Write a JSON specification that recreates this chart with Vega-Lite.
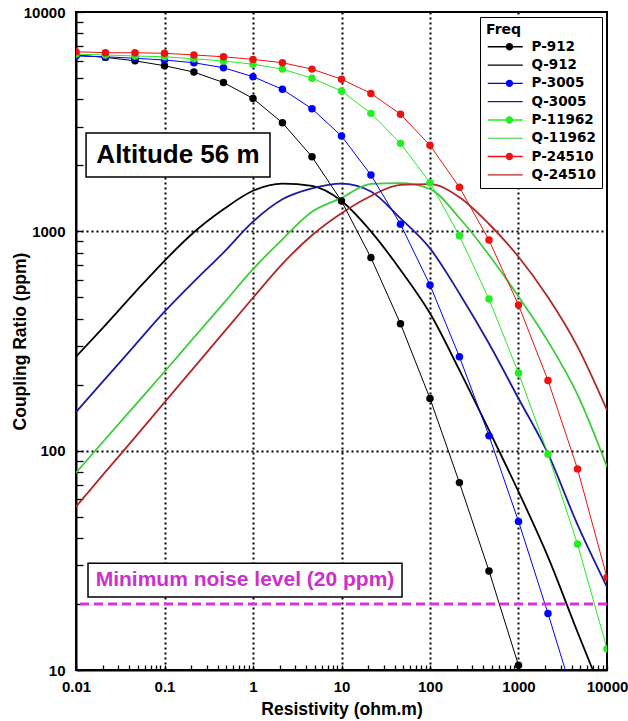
{
  "$schema": "https://vega.github.io/schema/vega-lite/v6.json",
  "width": 531,
  "height": 658,
  "autosize": {"type": "none"},
  "padding": {"left": 76, "top": 12, "right": 21, "bottom": 51},
  "background": "white",
  "config": {
    "view": {"stroke": "black", "strokeWidth": 2},
    "legend": {
      "orient": "top-right", "offset": 5, "padding": 6,
      "strokeColor": "black", "fillColor": "white", "cornerRadius": 0,
      "labelFont": "DejaVu Sans", "labelFontSize": 13.5, "labelFontWeight": "bold", "labelColor": "black",
      "titleFont": "DejaVu Sans", "titleFontSize": 14, "titleFontWeight": "bold", "titleColor": "black",
      "symbolSize": 100, "labelOffset": 32, "rowPadding": 3.3, "titlePadding": 3,
      "symbolStrokeWidth": 0, "symbolOpacity": 1
    }
  },
  "datasets": {
    "curves": [
      {"series":"P-912","kind":"P","resistivity":0.01,"ratio":6370},
      {"series":"P-912","kind":"P","resistivity":0.0215,"ratio":6210},
      {"series":"P-912","kind":"P","resistivity":0.0464,"ratio":5990},
      {"series":"P-912","kind":"P","resistivity":0.1,"ratio":5690},
      {"series":"P-912","kind":"P","resistivity":0.215,"ratio":5320},
      {"series":"P-912","kind":"P","resistivity":0.464,"ratio":4770},
      {"series":"P-912","kind":"P","resistivity":1,"ratio":4035},
      {"series":"P-912","kind":"P","resistivity":2.15,"ratio":3125},
      {"series":"P-912","kind":"P","resistivity":4.64,"ratio":2188},
      {"series":"P-912","kind":"P","resistivity":10,"ratio":1375},
      {"series":"P-912","kind":"P","resistivity":21.5,"ratio":759},
      {"series":"P-912","kind":"P","resistivity":46.4,"ratio":379},
      {"series":"P-912","kind":"P","resistivity":100,"ratio":173},
      {"series":"P-912","kind":"P","resistivity":215,"ratio":71.5},
      {"series":"P-912","kind":"P","resistivity":464,"ratio":28.3},
      {"series":"P-912","kind":"P","resistivity":1000,"ratio":10.5},
      {"series":"P-912","kind":"P","resistivity":2154,"ratio":3.9},

      {"series":"Q-912","kind":"Q","resistivity":0.01,"ratio":268},
      {"series":"Q-912","kind":"Q","resistivity":0.0215,"ratio":374},
      {"series":"Q-912","kind":"Q","resistivity":0.0464,"ratio":527},
      {"series":"Q-912","kind":"Q","resistivity":0.1,"ratio":734},
      {"series":"Q-912","kind":"Q","resistivity":0.215,"ratio":990},
      {"series":"Q-912","kind":"Q","resistivity":0.464,"ratio":1260},
      {"series":"Q-912","kind":"Q","resistivity":1,"ratio":1531},
      {"series":"Q-912","kind":"Q","resistivity":2.15,"ratio":1650},
      {"series":"Q-912","kind":"Q","resistivity":4.64,"ratio":1610},
      {"series":"Q-912","kind":"Q","resistivity":10,"ratio":1375},
      {"series":"Q-912","kind":"Q","resistivity":21.5,"ratio":1000},
      {"series":"Q-912","kind":"Q","resistivity":46.4,"ratio":667},
      {"series":"Q-912","kind":"Q","resistivity":100,"ratio":423},
      {"series":"Q-912","kind":"Q","resistivity":215,"ratio":233},
      {"series":"Q-912","kind":"Q","resistivity":464,"ratio":124},
      {"series":"Q-912","kind":"Q","resistivity":1000,"ratio":65},
      {"series":"Q-912","kind":"Q","resistivity":2154,"ratio":32.8},
      {"series":"Q-912","kind":"Q","resistivity":4642,"ratio":14.9},
      {"series":"Q-912","kind":"Q","resistivity":10000,"ratio":6.9},

      {"series":"P-3005","kind":"P","resistivity":0.01,"ratio":6300},
      {"series":"P-3005","kind":"P","resistivity":0.0215,"ratio":6250},
      {"series":"P-3005","kind":"P","resistivity":0.0464,"ratio":6150},
      {"series":"P-3005","kind":"P","resistivity":0.1,"ratio":6040},
      {"series":"P-3005","kind":"P","resistivity":0.215,"ratio":5870},
      {"series":"P-3005","kind":"P","resistivity":0.464,"ratio":5570},
      {"series":"P-3005","kind":"P","resistivity":1,"ratio":5070},
      {"series":"P-3005","kind":"P","resistivity":2.15,"ratio":4440},
      {"series":"P-3005","kind":"P","resistivity":4.64,"ratio":3620},
      {"series":"P-3005","kind":"P","resistivity":10,"ratio":2720},
      {"series":"P-3005","kind":"P","resistivity":21.5,"ratio":1807},
      {"series":"P-3005","kind":"P","resistivity":46.4,"ratio":1077},
      {"series":"P-3005","kind":"P","resistivity":100,"ratio":569},
      {"series":"P-3005","kind":"P","resistivity":215,"ratio":268},
      {"series":"P-3005","kind":"P","resistivity":464,"ratio":117},
      {"series":"P-3005","kind":"P","resistivity":1000,"ratio":47.6},
      {"series":"P-3005","kind":"P","resistivity":2154,"ratio":18.1},
      {"series":"P-3005","kind":"P","resistivity":4642,"ratio":6.6},

      {"series":"Q-3005","kind":"Q","resistivity":0.01,"ratio":150},
      {"series":"Q-3005","kind":"Q","resistivity":0.0215,"ratio":213},
      {"series":"Q-3005","kind":"Q","resistivity":0.0464,"ratio":303},
      {"series":"Q-3005","kind":"Q","resistivity":0.1,"ratio":430},
      {"series":"Q-3005","kind":"Q","resistivity":0.215,"ratio":590},
      {"series":"Q-3005","kind":"Q","resistivity":0.464,"ratio":800},
      {"series":"Q-3005","kind":"Q","resistivity":1,"ratio":1107},
      {"series":"Q-3005","kind":"Q","resistivity":2.15,"ratio":1400},
      {"series":"Q-3005","kind":"Q","resistivity":4.64,"ratio":1570},
      {"series":"Q-3005","kind":"Q","resistivity":10,"ratio":1650},
      {"series":"Q-3005","kind":"Q","resistivity":21.5,"ratio":1520},
      {"series":"Q-3005","kind":"Q","resistivity":46.4,"ratio":1146},
      {"series":"Q-3005","kind":"Q","resistivity":100,"ratio":836},
      {"series":"Q-3005","kind":"Q","resistivity":215,"ratio":521},
      {"series":"Q-3005","kind":"Q","resistivity":464,"ratio":308},
      {"series":"Q-3005","kind":"Q","resistivity":1000,"ratio":173},
      {"series":"Q-3005","kind":"Q","resistivity":2154,"ratio":97},
      {"series":"Q-3005","kind":"Q","resistivity":4642,"ratio":46},
      {"series":"Q-3005","kind":"Q","resistivity":10000,"ratio":23.9},

      {"series":"P-11962","kind":"P","resistivity":0.01,"ratio":6430},
      {"series":"P-11962","kind":"P","resistivity":0.0215,"ratio":6370},
      {"series":"P-11962","kind":"P","resistivity":0.0464,"ratio":6300},
      {"series":"P-11962","kind":"P","resistivity":0.1,"ratio":6250},
      {"series":"P-11962","kind":"P","resistivity":0.215,"ratio":6120},
      {"series":"P-11962","kind":"P","resistivity":0.464,"ratio":5980},
      {"series":"P-11962","kind":"P","resistivity":1,"ratio":5780},
      {"series":"P-11962","kind":"P","resistivity":2.15,"ratio":5490},
      {"series":"P-11962","kind":"P","resistivity":4.64,"ratio":4990},
      {"series":"P-11962","kind":"P","resistivity":10,"ratio":4365},
      {"series":"P-11962","kind":"P","resistivity":21.5,"ratio":3450},
      {"series":"P-11962","kind":"P","resistivity":46.4,"ratio":2518},
      {"series":"P-11962","kind":"P","resistivity":100,"ratio":1667},
      {"series":"P-11962","kind":"P","resistivity":215,"ratio":955},
      {"series":"P-11962","kind":"P","resistivity":464,"ratio":491},
      {"series":"P-11962","kind":"P","resistivity":1000,"ratio":226},
      {"series":"P-11962","kind":"P","resistivity":2154,"ratio":96.4},
      {"series":"P-11962","kind":"P","resistivity":4642,"ratio":37.5},
      {"series":"P-11962","kind":"P","resistivity":10000,"ratio":12.5},

      {"series":"Q-11962","kind":"Q","resistivity":0.01,"ratio":79.3},
      {"series":"Q-11962","kind":"Q","resistivity":0.0215,"ratio":113},
      {"series":"Q-11962","kind":"Q","resistivity":0.0464,"ratio":161},
      {"series":"Q-11962","kind":"Q","resistivity":0.1,"ratio":229},
      {"series":"Q-11962","kind":"Q","resistivity":0.215,"ratio":328},
      {"series":"Q-11962","kind":"Q","resistivity":0.464,"ratio":469},
      {"series":"Q-11962","kind":"Q","resistivity":1,"ratio":672},
      {"series":"Q-11962","kind":"Q","resistivity":2.15,"ratio":920},
      {"series":"Q-11962","kind":"Q","resistivity":4.64,"ratio":1228},
      {"series":"Q-11962","kind":"Q","resistivity":10,"ratio":1420},
      {"series":"Q-11962","kind":"Q","resistivity":21.5,"ratio":1645},
      {"series":"Q-11962","kind":"Q","resistivity":46.4,"ratio":1660},
      {"series":"Q-11962","kind":"Q","resistivity":100,"ratio":1560},
      {"series":"Q-11962","kind":"Q","resistivity":215,"ratio":1150},
      {"series":"Q-11962","kind":"Q","resistivity":464,"ratio":780},
      {"series":"Q-11962","kind":"Q","resistivity":1000,"ratio":504},
      {"series":"Q-11962","kind":"Q","resistivity":2154,"ratio":315},
      {"series":"Q-11962","kind":"Q","resistivity":4642,"ratio":180},
      {"series":"Q-11962","kind":"Q","resistivity":10000,"ratio":84.5},

      {"series":"P-24510","kind":"P","resistivity":0.01,"ratio":6590},
      {"series":"P-24510","kind":"P","resistivity":0.0215,"ratio":6520},
      {"series":"P-24510","kind":"P","resistivity":0.0464,"ratio":6520},
      {"series":"P-24510","kind":"P","resistivity":0.1,"ratio":6480},
      {"series":"P-24510","kind":"P","resistivity":0.215,"ratio":6370},
      {"series":"P-24510","kind":"P","resistivity":0.464,"ratio":6250},
      {"series":"P-24510","kind":"P","resistivity":1,"ratio":6080},
      {"series":"P-24510","kind":"P","resistivity":2.15,"ratio":5870},
      {"series":"P-24510","kind":"P","resistivity":4.64,"ratio":5490},
      {"series":"P-24510","kind":"P","resistivity":10,"ratio":4940},
      {"series":"P-24510","kind":"P","resistivity":21.5,"ratio":4255},
      {"series":"P-24510","kind":"P","resistivity":46.4,"ratio":3420},
      {"series":"P-24510","kind":"P","resistivity":100,"ratio":2467},
      {"series":"P-24510","kind":"P","resistivity":215,"ratio":1588},
      {"series":"P-24510","kind":"P","resistivity":464,"ratio":912},
      {"series":"P-24510","kind":"P","resistivity":1000,"ratio":461},
      {"series":"P-24510","kind":"P","resistivity":2154,"ratio":209},
      {"series":"P-24510","kind":"P","resistivity":4642,"ratio":82.6},
      {"series":"P-24510","kind":"P","resistivity":10000,"ratio":26.4},

      {"series":"Q-24510","kind":"Q","resistivity":0.01,"ratio":55.5},
      {"series":"Q-24510","kind":"Q","resistivity":0.0215,"ratio":80},
      {"series":"Q-24510","kind":"Q","resistivity":0.0464,"ratio":115},
      {"series":"Q-24510","kind":"Q","resistivity":0.1,"ratio":166},
      {"series":"Q-24510","kind":"Q","resistivity":0.215,"ratio":239},
      {"series":"Q-24510","kind":"Q","resistivity":0.464,"ratio":345},
      {"series":"Q-24510","kind":"Q","resistivity":1,"ratio":498},
      {"series":"Q-24510","kind":"Q","resistivity":2.15,"ratio":711},
      {"series":"Q-24510","kind":"Q","resistivity":4.64,"ratio":960},
      {"series":"Q-24510","kind":"Q","resistivity":10,"ratio":1210},
      {"series":"Q-24510","kind":"Q","resistivity":21.5,"ratio":1450},
      {"series":"Q-24510","kind":"Q","resistivity":46.4,"ratio":1630},
      {"series":"Q-24510","kind":"Q","resistivity":100,"ratio":1640},
      {"series":"Q-24510","kind":"Q","resistivity":215,"ratio":1430},
      {"series":"Q-24510","kind":"Q","resistivity":464,"ratio":1080},
      {"series":"Q-24510","kind":"Q","resistivity":1000,"ratio":766},
      {"series":"Q-24510","kind":"Q","resistivity":2154,"ratio":500},
      {"series":"Q-24510","kind":"Q","resistivity":4642,"ratio":298},
      {"series":"Q-24510","kind":"Q","resistivity":10000,"ratio":153}
    ]
  },
  "layer": [
    {
      "data": {"name": "curves"},
      "transform": [{"filter": "datum.kind == 'Q'"}],
      "mark": {"type": "line", "clip": true, "interpolate": "monotone", "strokeWidth": 1.8},
      "encoding": {
        "x": {
          "field": "resistivity", "type": "quantitative",
          "scale": {"type": "log", "domain": [0.01, 10000], "nice": false},
          "axis": {
            "title": "Resistivity (ohm.m)",
            "values": [0.01,0.02,0.03,0.04,0.05,0.06,0.07,0.08,0.09,0.1,0.2,0.3,0.4,0.5,0.6,0.7,0.8,0.9,1,2,3,4,5,6,7,8,9,10,20,30,40,50,60,70,80,90,100,200,300,400,500,600,700,800,900,1000,2000,3000,4000,5000,6000,7000,8000,9000,10000],
            "format": "~g",
            "labelExpr": "indexof([0.01,0.1,1,10,100,1000,10000], datum.value) >= 0 ? datum.label : ''",
            "labelOverlap": false, "labelFlush": false,
            "labelFont": "Liberation Sans", "labelFontSize": 15, "labelFontWeight": "bold", "labelColor": "black",
            "labelPadding": 14,
            "tickSize": -5, "tickColor": "black", "tickWidth": 1.3,
            "domainColor": "black", "domainWidth": 2,
            "grid": true, "gridColor": "black", "gridWidth": 2, "gridDash": [2, 3],
            "gridOpacity": {"condition": {"test": "indexof([0.1,1,10,100,1000], datum.value) >= 0", "value": 1}, "value": 0},
            "titleFont": "Liberation Sans", "titleFontSize": 17.5, "titleFontWeight": "bold", "titleColor": "black",
            "titleBaseline": "top", "titleX": 265.5, "titleY": 30
          }
        },
        "y": {
          "field": "ratio", "type": "quantitative",
          "scale": {"type": "log", "domain": [10, 10000], "nice": false},
          "axis": {
            "title": "Coupling Ratio (ppm)",
            "values": [10,20,30,40,50,60,70,80,90,100,200,300,400,500,600,700,800,900,1000,2000,3000,4000,5000,6000,7000,8000,9000,10000],
            "format": "~g",
            "labelExpr": "indexof([10,100,1000,10000], datum.value) >= 0 ? datum.label : ''",
            "labelOverlap": false, "labelFlush": false,
            "labelFont": "Liberation Sans", "labelFontSize": 15, "labelFontWeight": "bold", "labelColor": "black",
            "labelPadding": 18,
            "tickSize": -7, "tickColor": "black", "tickWidth": 1.3,
            "domainColor": "black", "domainWidth": 2,
            "grid": true, "gridColor": "black", "gridWidth": 2, "gridDash": [2, 3],
            "gridOpacity": {"condition": {"test": "indexof([100,1000], datum.value) >= 0", "value": 1}, "value": 0},
            "titleFont": "Liberation Sans", "titleFontSize": 17.5, "titleFontWeight": "bold", "titleColor": "black",
            "titleX": -47, "titleY": 329
          }
        },
        "stroke": {
          "field": "series", "type": "nominal", "legend": null,
          "scale": {
            "domain": ["Q-912","Q-3005","Q-11962","Q-24510","P-912","P-3005","P-11962","P-24510"],
            "range": ["#000000","#1c1c9c","#3ccc3c","#b02828","#000000","#0000ff","#22ee22","#ee1111"]
          }
        },
        "detail": {"field": "series"}
      }
    },
    {
      "data": {"name": "curves"},
      "transform": [{"filter": "datum.kind == 'P'"}],
      "mark": {"type": "line", "clip": true, "strokeWidth": 1},
      "encoding": {
        "x": {"field": "resistivity", "type": "quantitative", "scale": {"type": "log"}},
        "y": {"field": "ratio", "type": "quantitative", "scale": {"type": "log"}},
        "stroke": {"field": "series", "type": "nominal", "legend": null},
        "detail": {"field": "series"}
      }
    },
    {
      "data": {"name": "curves"},
      "transform": [{"filter": "datum.kind == 'P'"}],
      "mark": {"type": "circle", "clip": true, "size": 56, "opacity": 1},
      "encoding": {
        "x": {"field": "resistivity", "type": "quantitative", "scale": {"type": "log"}},
        "y": {"field": "ratio", "type": "quantitative", "scale": {"type": "log"}},
        "fill": {
          "field": "series", "type": "nominal", "legend": null,
          "scale": {
            "domain": ["P-912","P-3005","P-11962","P-24510"],
            "range": ["#000000","#0000ff","#22ee22","#ee1111"]
          }
        }
      }
    },
    {
      "data": {"values": [{"label": "Altitude 56 m"}]},
      "mark": {"type": "rect", "fill": "white", "stroke": "black", "strokeWidth": 1.5},
      "encoding": {
        "x": {"datum": 0.013, "type": "quantitative", "scale": {"type": "log"}},
        "x2": {"datum": 1.556},
        "y": {"datum": 2805, "type": "quantitative", "scale": {"type": "log"}},
        "y2": {"datum": 1770}
      }
    },
    {
      "data": {"values": [{"label": "Altitude 56 m"}]},
      "mark": {"type": "text", "font": "Liberation Sans", "fontSize": 26, "fontWeight": "bold", "color": "black", "align": "center", "baseline": "middle"},
      "encoding": {
        "x": {"datum": 0.142, "type": "quantitative", "scale": {"type": "log"}},
        "y": {"datum": 2228, "type": "quantitative", "scale": {"type": "log"}},
        "text": {"field": "label"}
      }
    },
    {
      "data": {"values": [{"label": "Minimum noise level (20 ppm)"}]},
      "mark": {"type": "rect", "fill": "white", "stroke": "black", "strokeWidth": 1.5},
      "encoding": {
        "x": {"datum": 0.01367, "type": "quantitative", "scale": {"type": "log"}},
        "x2": {"datum": 48.3},
        "y": {"datum": 30.7, "type": "quantitative", "scale": {"type": "log"}},
        "y2": {"datum": 21.5}
      }
    },
    {
      "data": {"values": [{"label": "Minimum noise level (20 ppm)"}]},
      "mark": {"type": "text", "font": "Liberation Sans", "fontSize": 21, "fontWeight": "bold", "color": "#cc30cc", "align": "center", "baseline": "middle"},
      "encoding": {
        "x": {"datum": 0.812, "type": "quantitative", "scale": {"type": "log"}},
        "y": {"datum": 25.7, "type": "quantitative", "scale": {"type": "log"}},
        "text": {"field": "label"}
      }
    },
    {
      "data": {"values": [{"level": 20}]},
      "mark": {"type": "rule", "color": "#d833d8", "strokeWidth": 3, "strokeDash": [9, 5]},
      "encoding": {
        "y": {"field": "level", "type": "quantitative", "scale": {"type": "log"}}
      }
    },
    {
      "data": {"name": "curves"},
      "mark": {"type": "point", "filled": true, "opacity": 0, "size": 1},
      "encoding": {
        "x": {"field": "resistivity", "type": "quantitative", "scale": {"type": "log"}},
        "y": {"field": "ratio", "type": "quantitative", "scale": {"type": "log"}},
        "color": {
          "field": "series", "type": "nominal",
          "legend": {"title": "Freq", "titleFont": "DejaVu Sans", "titleFontSize": 14, "titleFontWeight": "bold", "rowPadding": 3.3},
          "scale": {
            "domain": ["P-912","Q-912","P-3005","Q-3005","P-11962","Q-11962","P-24510","Q-24510"],
            "range": ["#000000","#000000","#0000ff","#1c1c9c","#22ee22","#3ccc3c","#ee1111","#b02828"]
          }
        },
        "shape": {
          "field": "series", "type": "nominal",
          "legend": {"title": "Freq", "titleFont": "DejaVu Sans", "titleFontSize": 14, "titleFontWeight": "bold", "rowPadding": 3.3},
          "scale": {
            "domain": ["P-912","Q-912","P-3005","Q-3005","P-11962","Q-11962","P-24510","Q-24510"],
            "range": [
              "M-1,-0.14H6V0.14H-1Z M2.6,0 a0.74,0.74 0 1,1 1.48,0 a0.74,0.74 0 1,1 -1.48,0",
              "M-1,-0.12H6V0.12H-1Z",
              "M-1,-0.14H6V0.14H-1Z M2.6,0 a0.74,0.74 0 1,1 1.48,0 a0.74,0.74 0 1,1 -1.48,0",
              "M-1,-0.12H6V0.12H-1Z",
              "M-1,-0.14H6V0.14H-1Z M2.6,0 a0.74,0.74 0 1,1 1.48,0 a0.74,0.74 0 1,1 -1.48,0",
              "M-1,-0.12H6V0.12H-1Z",
              "M-1,-0.14H6V0.14H-1Z M2.6,0 a0.74,0.74 0 1,1 1.48,0 a0.74,0.74 0 1,1 -1.48,0",
              "M-1,-0.12H6V0.12H-1Z"
            ]
          }
        }
      }
    }
  ]
}
